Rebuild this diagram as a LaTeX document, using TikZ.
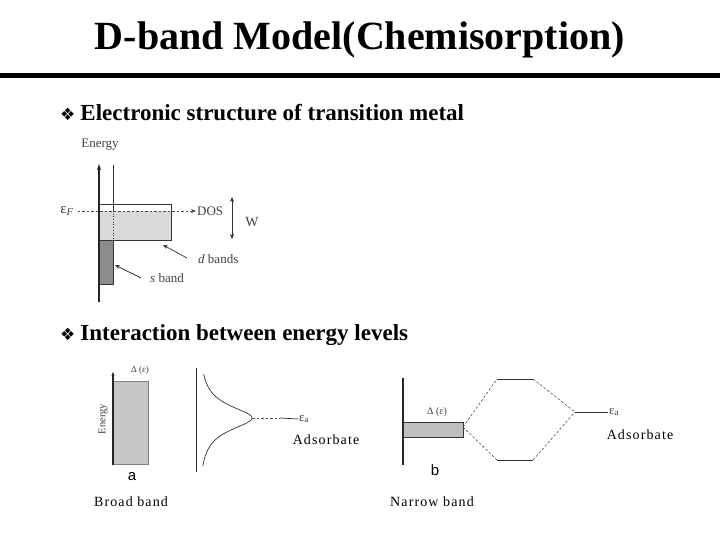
\documentclass[tikz,border=0pt]{standalone}
\usepackage{fontspec}
\setmainfont{Liberation Serif}
\newfontfamily\symfont{DejaVu Sans}
\newfontfamily\sansfont{Liberation Sans}
\usetikzlibrary{arrows.meta}
\tikzset{
  lbl/.style={font=\fontsize{13}{14}\selectfont, text=black!75, inner sep=1pt},
  captxt/.style={font=\fontsize{14}{16}\selectfont\addfontfeature{LetterSpace=8}, inner sep=1pt},
  bullet/.style={anchor=west, font=\bfseries\fontsize{23}{26}\selectfont, inner sep=0pt},
  ax/.style={line width=1.1pt, black!85},
  thinln/.style={line width=0.7pt, black!80},
  dsh/.style={line width=0.6pt, black!70, dash pattern=on 2.5pt off 2pt},
}
\begin{document}
\begin{tikzpicture}[x=1pt,y=-1pt]
\useasboundingbox (0,0) rectangle (720,540);
% title
\node[font=\bfseries\fontsize{40}{44}\selectfont, inner sep=0pt] (title) at (360,40) {D-band Model(Chemisorption)};
\draw[line width=4.5pt] (0,75.5) -- (720,75.5);
% bullets
\node[bullet] (b1) at (60,113) {{\symfont\fontsize{17}{20}\selectfont ❖}\kern5pt Electronic structure of transition metal};
\node[bullet] (b2) at (60,335) {{\symfont\fontsize{17}{20}\selectfont ❖}\kern5pt Interaction between energy levels};

% ---------- Figure 1 ----------
\fill[black!15] (99,211) rectangle (171,240);
\draw[thinln] (99,204) rectangle (171,240);
\fill[black!45] (99,240) rectangle (113,284);
\draw[thinln] (99,240) rectangle (113,284);
\draw[thinln] (113,165) -- (113,211);
\draw[thinln, dotted] (113,211) -- (113,240);
\draw[ax, -{Stealth[length=6pt,width=4pt]}] (99,302) -- (99,164);
\node[lbl] (energy1) at (100,145) {Energy};
\node[lbl, font=\fontsize{15}{16}\selectfont] (ef) at (67,211) {ε\textsubscript{\textit{F}}};
\node[lbl, anchor=west] (dos) at (196,211) {DOS};
\draw[dsh, -{Stealth[length=5pt,width=4pt]}] (ef.east) ++(3,0) coordinate (dosstart) -- (dos.west);
\coordinate (wtop) at (232,197);
\coordinate (wbot) at (232,239);
\draw[thinln, {Stealth[length=5pt,width=4pt]}-{Stealth[length=5pt,width=4pt]}] (wtop) -- (wbot);
\node[lbl, font=\fontsize{14}{15}\selectfont] (w) at (252,222) {W};
\node[lbl, anchor=west] (dbands) at (197,259) {\textit{d} bands};
\coordinate (dtip) at (163,245);
\draw[thinln, -{Stealth[length=5pt,width=4pt]}] (dbands.west) ++(-10,-1) -- (dtip);
\node[lbl, anchor=west] (sband) at (149,278) {\textit{s} band};
\coordinate (stip) at (115,265);
\draw[thinln, -{Stealth[length=5pt,width=4pt]}] (sband.west) ++(-8,0) -- (stip);

% ---------- Figure 2a ----------
\fill[black!22] (113,381) rectangle (148,464);
\draw[black!50, line width=0.4pt] (113,381) rectangle (148,464);
\draw[ax, -{Stealth[length=4pt,width=3pt]}] (113,465) -- (113,372);
\node[lbl, font=\fontsize{9}{10}\selectfont] (lama) at (140,370) {Δ (ε)};
\node[lbl, font=\fontsize{10.5}{11}\selectfont, rotate=90] (energy2) at (103,419) {Energy};
\node[font=\sansfont\fontsize{15}{16}\selectfont, inner sep=0pt] (la) at (132,477) {a};
\draw[thinln] (196,368) -- (196,472);
\draw[thinln, smooth] plot[domain=-44:48, samples=90] ({198+54/(1+(\x/15)*(\x/15))}, {418+\x});
\coordinate (peak) at (252,418);
\coordinate (adash) at (280,418);
\node[lbl, anchor=west, font=\fontsize{13}{14}\selectfont] (epsa1) at (298,419) {ε\textsubscript{a}};
\draw[dsh] (peak) -- (adash);
\draw[thinln] (adash) -- (epsa1.west);
\node[captxt] (ads1) at (326,440) {Adsorbate};
\node[captxt] (broad) at (131,502) {Broad band};

% ---------- Figure 2b ----------
\draw[ax] (403,378) -- (403,465);
\fill[black!25] (403,422) rectangle (463,437);
\draw[thinln] (403,422) rectangle (463,437);
\node[lbl, font=\fontsize{10}{11}\selectfont] (lamb) at (437,412) {Δ (ε)};
\node[font=\sansfont\fontsize{15}{16}\selectfont, inner sep=0pt] (lb) at (435,470) {b};
\coordinate (bmid) at (463,427);
\coordinate (ut1) at (497,379);
\coordinate (ut2) at (533,379);
\coordinate (lt1) at (497,460);
\coordinate (lt2) at (533,460);
\coordinate (ea) at (575,412);
\node[lbl, anchor=west, font=\fontsize{13}{14}\selectfont] (epsa2) at (608,412) {ε\textsubscript{a}};
\draw[dsh] (bmid) -- (ut1);
\draw[thinln] (ut1) -- (ut2);
\draw[dsh] (ut2) -- (ea);
\draw[dsh] (bmid) -- (lt1);
\draw[thinln] (lt1) -- (lt2);
\draw[dsh] (lt2) -- (ea);
\draw[thinln] (ea) -- (epsa2.west);
\node[captxt] (ads2) at (640,435) {Adsorbate};
\node[captxt] (narrow) at (432,502) {Narrow band};
\end{tikzpicture}
\end{document}
